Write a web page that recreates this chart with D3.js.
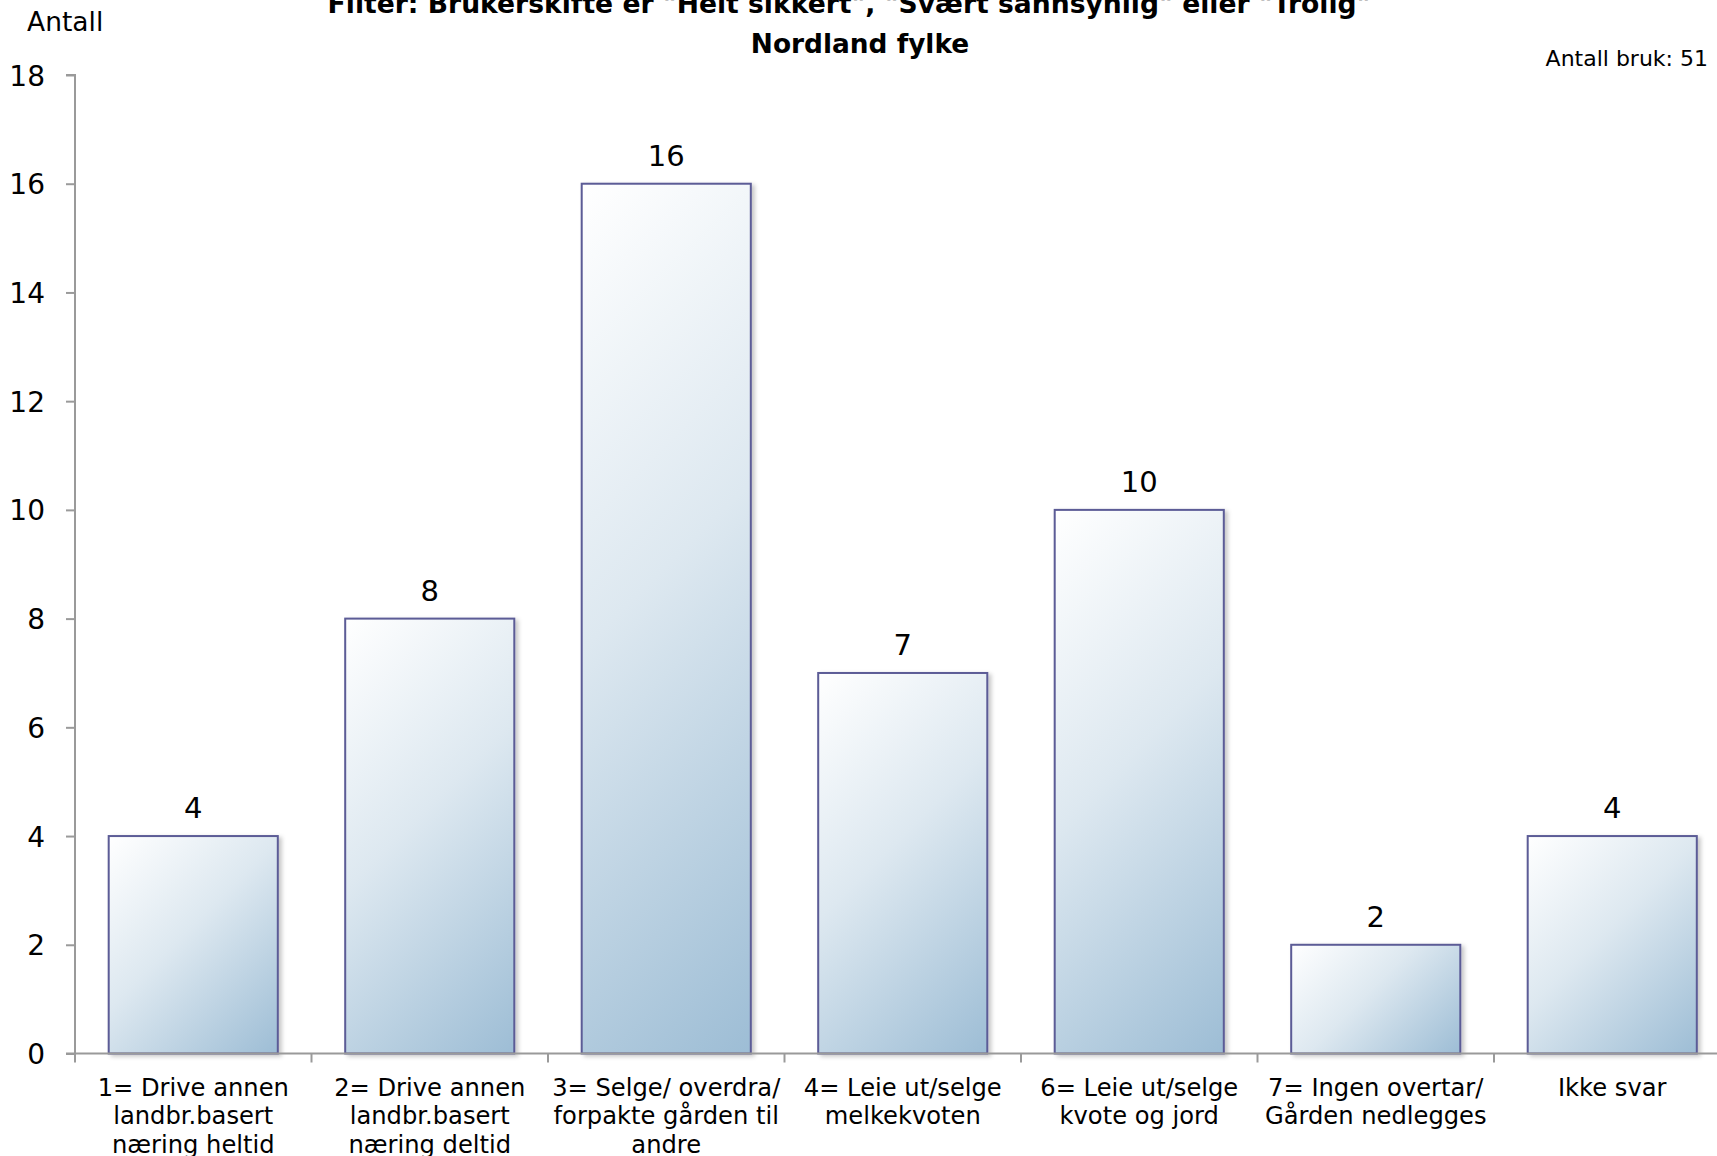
<!DOCTYPE html>
<html><head><meta charset="utf-8">
<script src="https://cdn.jsdelivr.net/npm/d3@7"></script>
<style>body{margin:0;background:#fff;overflow:hidden}svg{display:block}text{font-family:"DejaVu Sans",Verdana,sans-serif;fill:#000}</style>
</head><body>
<script>
const categories = [
  ["1= Drive annen","landbr.basert","næring heltid"],
  ["2= Drive annen","landbr.basert","næring deltid"],
  ["3= Selge/ overdra/","forpakte gården til","andre"],
  ["4= Leie ut/selge","melkekvoten"],
  ["6= Leie ut/selge","kvote og jord"],
  ["7= Ingen overtar/","Gården nedlegges"],
  ["Ikke svar"]
];
const values = [4, 8, 16, 7, 10, 2, 4];
const yTicks = [0, 2, 4, 6, 8, 10, 12, 14, 16, 18];
const titleLines = ["Filter: Brukerskifte er \"Helt sikkert\", \"Svært sannsynlig\" eller \"Trolig\"", "Nordland fylke"];
const yTitle = "Antall";
const note = "Antall bruk: 51";

const W = 1717, H = 1156;
const svg = d3.select("body").append("svg").attr("width", W).attr("height", H);
const defs = svg.append("defs");
const f = defs.append("filter").attr("id","shadow").attr("x","-10%").attr("y","-10%").attr("width","130%").attr("height","130%");
f.append("feDropShadow").attr("dx",3).attr("dy",2).attr("stdDeviation",2).attr("flood-color","#000").attr("flood-opacity",0.22);

const pLeft = 75, pTop = 75, pBottom = 1053.5, band = 236.5;
const x = d3.scaleBand().domain(d3.range(categories.length)).range([pLeft, pLeft + categories.length*band]).paddingInner(0.285).paddingOuter(0.1425);
const y = d3.scaleLinear().domain([0, 18]).range([pBottom, pTop]);

// per-bar 45° gradients in user space
values.forEach((v,i)=>{
  const x0 = x(i), y0 = y(v), w = x.bandwidth(), h = y(0)-y(v);
  const gr = defs.append("linearGradient").attr("id","grad"+i).attr("gradientUnits","userSpaceOnUse")
    .attr("x1",x0).attr("y1",y0).attr("x2",x0+(w+h)/2).attr("y2",y0+(w+h)/2);
  gr.append("stop").attr("offset",0).attr("stop-color","#ffffff");
  gr.append("stop").attr("offset",0.45).attr("stop-color","#dde8f0");
  gr.append("stop").attr("offset",1).attr("stop-color","#9dbdd5");
});

// y axis
const yAxis = d3.axisLeft(y).tickValues(yTicks).tickSize(9).tickPadding(21).tickFormat(d3.format("d"));
const ya = svg.append("g").attr("transform",`translate(${pLeft},0)`).call(yAxis);
ya.select(".domain").attr("stroke","#9a9a9a").attr("stroke-width",2).attr("d",`M-9,${pTop}H0V${pBottom}`);
ya.selectAll(".tick line").attr("stroke","#9a9a9a").attr("stroke-width",2);
ya.selectAll(".tick text").attr("font-size",28).attr("font-family","DejaVu Sans").attr("fill","#000").attr("dy","0.36em");

// bars
svg.append("g").selectAll("rect").data(values).join("rect")
  .attr("x",(d,i)=>x(i)).attr("y",d=>y(d))
  .attr("width",x.bandwidth()).attr("height",d=>y(0)-y(d))
  .attr("fill",(d,i)=>`url(#grad${i})`).attr("stroke","#5b5b96").attr("stroke-width",2)
  .attr("filter","url(#shadow)");

// x axis
const xa = svg.append("g");
xa.append("line").attr("x1",pLeft-9).attr("x2",W).attr("y1",pBottom).attr("y2",pBottom).attr("stroke","#9a9a9a").attr("stroke-width",2);
xa.selectAll("line.t").data(d3.range(categories.length+1)).join("line").attr("class","t")
  .attr("x1",i=>pLeft + i*band).attr("x2",i=>pLeft + i*band)
  .attr("y1",pBottom).attr("y2",pBottom+9).attr("stroke","#9a9a9a").attr("stroke-width",2);

// category labels
svg.append("g").selectAll("text").data(categories).join("text")
  .attr("text-anchor","middle").attr("font-size",24.2)
  .attr("transform",(d,i)=>`translate(${x(i)+x.bandwidth()/2},${pBottom+42})`)
  .selectAll("tspan").data(d=>d).join("tspan").attr("x",0).attr("dy",(d,j)=>j===0?0:28.5).text(d=>d);

// value labels
svg.append("g").selectAll("text").data(values).join("text")
  .attr("text-anchor","middle").attr("font-size",29).attr("font-family","DejaVu Sans")
  .attr("x",(d,i)=>x(i)+x.bandwidth()/2).attr("y",d=>y(d)-18).text(d=>d);

// titles
svg.append("text").attr("x",849).attr("y",13).attr("text-anchor","middle").attr("font-size",26.6).attr("font-weight","bold").text(titleLines[0]);
svg.append("text").attr("x",860).attr("y",53).attr("text-anchor","middle").attr("font-size",26.4).attr("font-weight","bold").text(titleLines[1]);
svg.append("text").attr("x",27).attr("y",31).attr("font-size",26.5).text(yTitle);
svg.append("text").attr("x",1708).attr("y",66).attr("text-anchor","end").attr("font-size",22).text(note);
</script>
</body></html>
